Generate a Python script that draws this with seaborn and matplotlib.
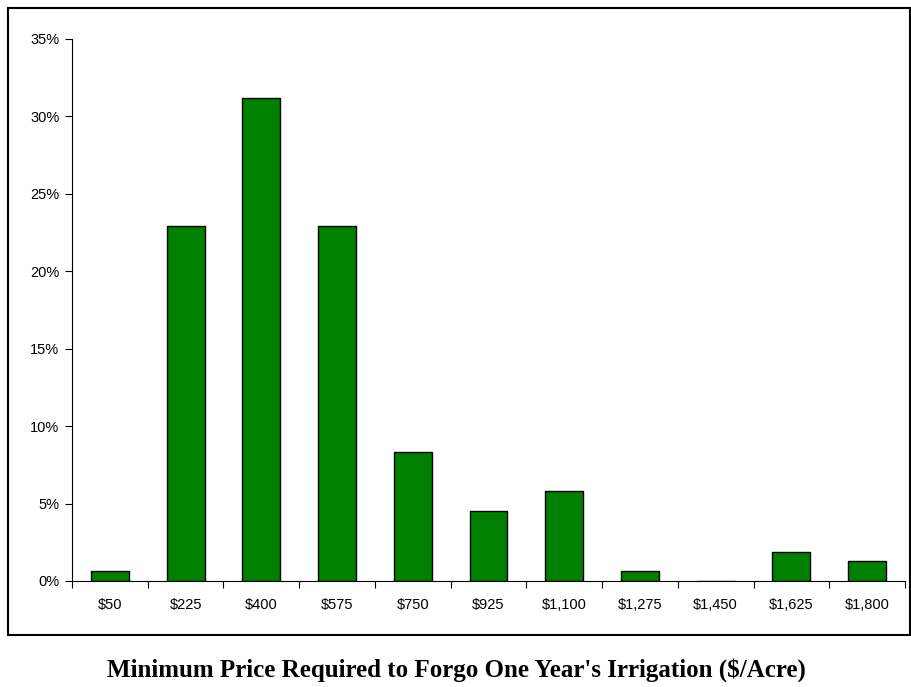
import matplotlib
matplotlib.use("Agg")
import matplotlib.pyplot as plt
import seaborn as sns
import numpy as np
import pandas as pd
from matplotlib.patches import Rectangle
from matplotlib.ticker import FuncFormatter

categories = ["$50", "$225", "$400", "$575", "$750", "$925", "$1,100",
              "$1,275", "$1,450", "$1,625", "$1,800"]
shares = [0.65, 22.9, 31.2, 22.9, 8.3, 4.5, 5.8, 0.65, 0.0, 1.9, 1.3]
y_ticks = [0, 5, 10, 15, 20, 25, 30, 35]
title = "Minimum Price Required to Forgo One Year's Irrigation ($/Acre)"

sns.set_style("white")
plt.rcParams['font.family'] = ['Liberation Sans', 'DejaVu Sans']
plt.rcParams['text.color'] = 'black'
plt.rcParams['xtick.color'] = 'black'
plt.rcParams['ytick.color'] = 'black'

df = pd.DataFrame({"price": categories, "share": shares})

fig = plt.figure(figsize=(9.12, 6.87), dpi=100)
ax = fig.add_axes([72/912, 1-581/687, 833/912, (581-39)/687])

sns.barplot(data=df, x="price", y="share", order=categories, color="#008000",
            edgecolor="black", linewidth=1.0, width=0.5, saturation=1, ax=ax)

ax.set_xlim(-0.5, len(categories) - 0.5)
ax.set_ylim(0, 35)
ax.set_yticks(y_ticks)
ax.yaxis.set_major_formatter(FuncFormatter(lambda v, p: f"{int(v)}%"))
ax.set_xticks(np.arange(len(categories)))
ax.set_xticklabels(categories)
ax.set_xticks(np.arange(-0.5, len(categories), 1), minor=True)
ax.tick_params(axis='x', which='major', length=0, pad=12.5, labelsize=10.5, labelcolor='black')
ax.tick_params(axis='x', which='minor', length=5, width=0.8, direction='out', color='black', bottom=True)
ax.tick_params(axis='y', length=5, width=0.8, direction='out', color='black', labelsize=10.5,
               labelcolor='black', left=True, pad=4)
ax.set_xlabel("")
ax.set_ylabel("")
for s in ["top", "right"]:
    ax.spines[s].set_visible(False)
for s in ["left", "bottom"]:
    ax.spines[s].set_color("black")
    ax.spines[s].set_linewidth(0.8)

fig.patches.append(Rectangle((8/912, 1-635/687), 902/912, 627/687,
                             transform=fig.transFigure, fill=False,
                             edgecolor="black", linewidth=1.5))

fig.text(0.5, 1-670/687, title, ha="center", va="center", color="black",
         fontsize=18, fontweight="bold", family=["Liberation Serif", "DejaVu Serif"])

fig.savefig("out.png", dpi=100)
